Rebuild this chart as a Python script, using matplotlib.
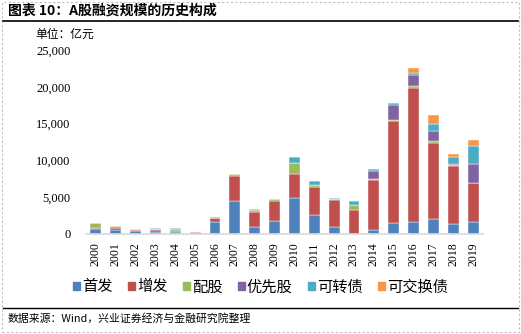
import matplotlib
matplotlib.use("Agg")
import matplotlib.pyplot as plt
import numpy as np
from matplotlib.lines import Line2D
from matplotlib.patches import Rectangle

plt.rcParams["font.family"] = ["Noto Sans CJK SC", "DejaVu Sans"]

years = [str(y) for y in range(2000, 2020)]
series_names = ["首发", "增发", "配股", "优先股", "可转债", "可交换债"]
colors = ["#4F81BD", "#C0504D", "#9BBB59", "#8064A2", "#4BACC6", "#F79646"]

ipo = [720, 540, 360, 310, 270, 0, 1630, 4470, 910, 1820,
       4870, 2590, 910, 60, 550, 1450, 1590, 2090, 1320, 1680]
seo = [50, 230, 230, 280, 180, 300, 500, 3410, 2090, 2690,
       3320, 3780, 3730, 3260, 6720, 13870, 18190, 10280, 7860, 5230]
rights = [680, 270, 90, 130, 180, 0, 60, 310, 270, 230,
          1450, 310, 60, 590, 190, 230, 360, 320, 180, 60]
preferred = [0, 0, 0, 0, 0, 0, 0, 0, 0, 0,
             0, 0, 0, 0, 1040, 1950, 1450, 1270, 190, 2590]
convertible = [80, 40, 30, 50, 140, 0, 120, 0, 130, 0,
               770, 460, 210, 550, 370, 330, 240, 1000, 860, 2410]
exchangeable = [0, 0, 0, 0, 0, 0, 0, 0, 0, 0,
                0, 0, 0, 0, 0, 0, 770, 1230, 460, 780]
series = [ipo, seo, rights, preferred, convertible, exchangeable]
y_ticks = [0, 5000, 10000, 15000, 20000, 25000]

fig = plt.figure(figsize=(5.21, 3.34), dpi=100)
ax = fig.add_axes([86 / 521, 1 - 234 / 334, 397 / 521, 184 / 334])

x = np.arange(len(years))
bottom = np.zeros(len(years))
for name, values, color in zip(series_names, series, colors):
    ax.bar(x, values, width=0.55, bottom=bottom, color=color, label=name,
           edgecolor="#FFFFFF", linewidth=0.3)
    bottom += np.array(values)

ax.set_xlim(-0.5, len(years) - 0.5)
ax.set_ylim(0, 25000)
ax.set_xticks(x)
ax.set_xticklabels(years, rotation=90, fontsize=8.5, family="Liberation Serif")
ax.set_yticks(y_ticks)
ax.set_yticklabels([f"{v:,}" for v in y_ticks], fontsize=9, family="Liberation Serif")
ax.tick_params(axis="x", length=0, pad=6)
ax.tick_params(axis="y", length=0, pad=11)
for side in ("top", "right", "left"):
    ax.spines[side].set_visible(False)
ax.spines["bottom"].set_color("#D9D9D9")
ax.spines["bottom"].set_linewidth(1.2)

fig.text(35 / 521, 1 - 34 / 334, "单位：亿元", fontsize=8.5, va="center")

handles = [Rectangle((0, 0), 1, 1, color=c) for c in colors]
fig.legend(handles, series_names, loc="center", bbox_to_anchor=(0.5, 1 - 287 / 334),
           ncol=6, frameon=False, fontsize=11, handlelength=0.45, handleheight=0.45,
           handletextpad=0.15, columnspacing=1.0)

# header / footer
fig.text(8 / 521, 1 - 11 / 334, "图表 10：A股融资规模的历史构成", fontsize=10,
         fontweight="bold", va="center")
fig.add_artist(Line2D([0.005, 0.995], [1 - 21 / 334] * 2, color="black", linewidth=1.2))
fig.add_artist(Line2D([0.005, 0.995], [1 - 308 / 334] * 2, color="black", linewidth=1.0))
fig.text(8 / 521, 1 - 318 / 334, "数据来源：Wind，兴业证券经济与金融研究院整理", fontsize=7.8,
         va="center")
fig.add_artist(Rectangle((0.004, 0.006), 0.992, 0.988, transform=fig.transFigure,
                         fill=False, edgecolor="#BFBFBF", linestyle=(0, (2, 2)), linewidth=0.8))

fig.savefig("out.png", dpi=100)
